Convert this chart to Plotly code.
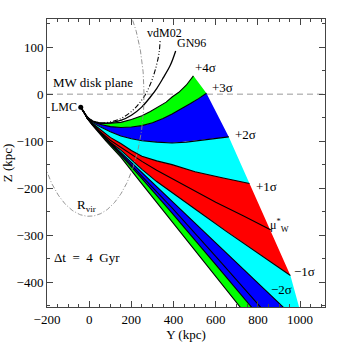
import numpy as np
import plotly.graph_objects as go

# ---- data (Y, Z in kpc) ----
LMC_Y, LMC_Z = [-40], [-28]

P4_Y = [-40, -25, -10, 15, 50, 100, 150, 200, 250, 290, 330, 365, 393, 425, 460, 494]
P4_Z = [-28, -38, -49, -57, -61, -62, -60, -54, -46, -37, -27, -17, -6, 4, 19, 39]
P3_Y = [-40, -25, -10, 15, 50, 100, 150, 200, 250, 300, 350, 393, 440, 480, 520, 556]
P3_Z = [-28, -38, -49, -58, -64, -69, -71, -70, -67, -61, -52, -42, -31, -20, -9, 2]
P2_Y = [-40, -25, -10, 15, 50, 100, 150, 200, 250, 320, 393, 460, 530, 600, 662]
P2_Z = [-28, -38, -50, -60, -69, -80, -89, -95, -99, -102, -104, -102, -98, -94, -91]
P1_Y = [-40, -25, -10, 15, 50, 100, 150, 200, 250, 320, 393, 450, 502, 630, 760]
P1_Z = [-28, -38, -50, -62, -75, -92, -105, -120, -132, -142, -150, -158, -165, -178, -190]
MU_Y = [-40, -25, -10, 15, 50, 100, 150, 200, 250, 320, 393, 500, 600, 730, 862]
MU_Z = [-28, -38, -50, -63, -79, -98, -113, -129, -143, -162, -180, -206, -230, -259, -289]
M1_Y = [-40, -25, -10, 15, 50, 100, 150, 200, 250, 320, 393, 500, 650, 800, 954]
M1_Z = [-28, -38, -50, -64, -81, -103, -119, -140, -160, -186, -210, -244, -292, -339, -386]
M2_Y = [-40, -25, -10, 15, 80, 150, 250, 393, 600, 919, 1022]
M2_Z = [-28, -38, -51, -64, -94, -124, -168, -228, -317, -453, -497]
M25_Y = [-40, -25, -10, 15, 80, 150, 250, 393, 600, 810, 904]
M25_Z = [-28, -38, -51, -65, -96, -127, -175, -242, -345, -453, -500]
M3_Y = [-40, -25, -10, 15, 80, 150, 250, 393, 600, 768, 857]
M3_Z = [-28, -38, -51, -65, -97, -130, -180, -253, -363, -453, -500]
M4_Y = [-40, -25, -10, 15, 80, 150, 250, 393, 600, 716, 799]
M4_Z = [-28, -38, -51, -66, -100, -134, -191, -272, -388, -453, -500]

VDM_Y = [-40, -25, -10, 15, 50, 100, 150, 200, 240, 270, 300, 320, 332, 336]
VDM_Z = [-28, -38, -48, -56, -61, -59, -52, -37, -18, 2, 33, 63, 90, 113]
GN_Y = [-40, -25, -10, 15, 50, 100, 150, 200, 250, 290, 320, 350, 385, 410]
GN_Z = [-28, -38, -48, -57, -62, -61, -56, -45, -27, -6, 12, 34, 62, 92]

R_VIR = 260

GREEN, BLUE, CYAN, RED = "#00ff00", "#0000ff", "#00ffff", "#ff0000"

fig = go.Figure()

def band(uy, uz, ly, lz, color):
    fig.add_trace(go.Scatter(x=list(uy) + list(ly[::-1]), y=list(uz) + list(lz[::-1]),
                             fill="toself", fillcolor=color, mode="lines",
                             line=dict(width=0, color=color),
                             hoverinfo="skip", showlegend=False))

band(P4_Y, P4_Z, P3_Y, P3_Z, GREEN)
band(P3_Y, P3_Z, P2_Y, P2_Z, BLUE)
band(P2_Y, P2_Z, P1_Y, P1_Z, CYAN)
band(P1_Y, P1_Z, M1_Y, M1_Z, RED)
band(M1_Y, M1_Z, M2_Y, M2_Z, CYAN)
band(M2_Y, M2_Z, M25_Y, M25_Z, BLUE)
band(M25_Y, M25_Z, M3_Y, M3_Z, BLUE)
band(M3_Y, M3_Z, M4_Y, M4_Z, GREEN)

for cy, cz in [(P4_Y, P4_Z), (P3_Y, P3_Z), (P2_Y, P2_Z), (P1_Y, P1_Z), (MU_Y, MU_Z),
               (M1_Y, M1_Z), (M2_Y, M2_Z), (M25_Y, M25_Z), (M3_Y, M3_Z), (M4_Y, M4_Z)]:
    fig.add_trace(go.Scatter(x=cy, y=cz, mode="lines",
                             line=dict(color="black", width=1.1),
                             hoverinfo="skip", showlegend=False))

# previous orbits
fig.add_trace(go.Scatter(x=VDM_Y, y=VDM_Z, mode="lines",
                         line=dict(color="black", width=1.1, dash="5px,2px,1px,2px,1px,2px", shape="spline"),
                         showlegend=False))
fig.add_trace(go.Scatter(x=GN_Y, y=GN_Z, mode="lines",
                         line=dict(color="black", width=1.3, shape="spline"), showlegend=False))

# virial radius
th = np.linspace(0, 2 * np.pi, 400)
fig.add_trace(go.Scatter(x=R_VIR * np.cos(th), y=R_VIR * np.sin(th), mode="lines",
                         line=dict(color="#888888", width=0.9, dash="5px,2px,1px,2px"),
                         showlegend=False))

fig.add_trace(go.Scatter(x=LMC_Y, y=LMC_Z, mode="markers", marker=dict(color="black", size=5),
                         showlegend=False))

fig.add_shape(type="line", xref="paper", yref="y", x0=0, x1=1, y0=0, y1=0,
              line=dict(color="#999999", width=1, dash="6px,4px"), layer="below")

FONT = "Times New Roman, Liberation Serif, DejaVu Serif, serif"
def txt(x, y, s, anchor="center", size=13):
    fig.add_annotation(x=x, y=y, text=s, showarrow=False, xanchor=anchor, yanchor="middle",
                       font=dict(family=FONT, size=size, color="black"))

txt(-182, 25, "MW disk plane", "left")
txt(-50, -28, "LMC", "right", 12)
txt(355, 130, "vdM02", size=12)
txt(483, 108, "GN96", size=12)
txt(550, 56, "+4σ")
txt(630, 15, "+3σ")
txt(742, -85, "+2σ")
txt(841, -196, "+1σ")
txt(900, -279, "μ<sup>*</sup><sub>W</sub>", size=12)
txt(1019, -377, "−1σ")
txt(910, -415, "−2σ")
txt(-12, -236, "R<sub>vir</sub>")
txt(-174, -347, "Δt\u00a0 =\u00a0 4\u00a0 Gyr", "left")

ax = dict(showline=True, linecolor="#444444", linewidth=1, mirror="allticks", ticks="inside",
          ticklen=6, tickcolor="#444444", showgrid=False, zeroline=False, automargin=False,
          tickfont=dict(family=FONT, size=13, color="black"),
          minor=dict(ticks="inside", ticklen=3, dtick=50, tickcolor="#444444"))

fig.update_layout(
    width=344, height=344, autosize=False,
    margin=dict(l=47, r=19, t=19, b=37),
    paper_bgcolor="white", plot_bgcolor="white",
    xaxis=dict(range=[-200, 1118], tickvals=[-200, 0, 200, 400, 600, 800, 1000],
               title=dict(text="Y (kpc)", font=dict(family=FONT, size=13, color="black"), standoff=2), **ax),
    yaxis=dict(range=[-453, 160], tickvals=[-400, -300, -200, -100, 0, 100],
               title=dict(text="Z (kpc)", font=dict(family=FONT, size=13, color="black"), standoff=2), **ax),
)
fig.write_html("out.html", config={"displayModeBar": False},
               post_script="document.body.style.margin='0';")
